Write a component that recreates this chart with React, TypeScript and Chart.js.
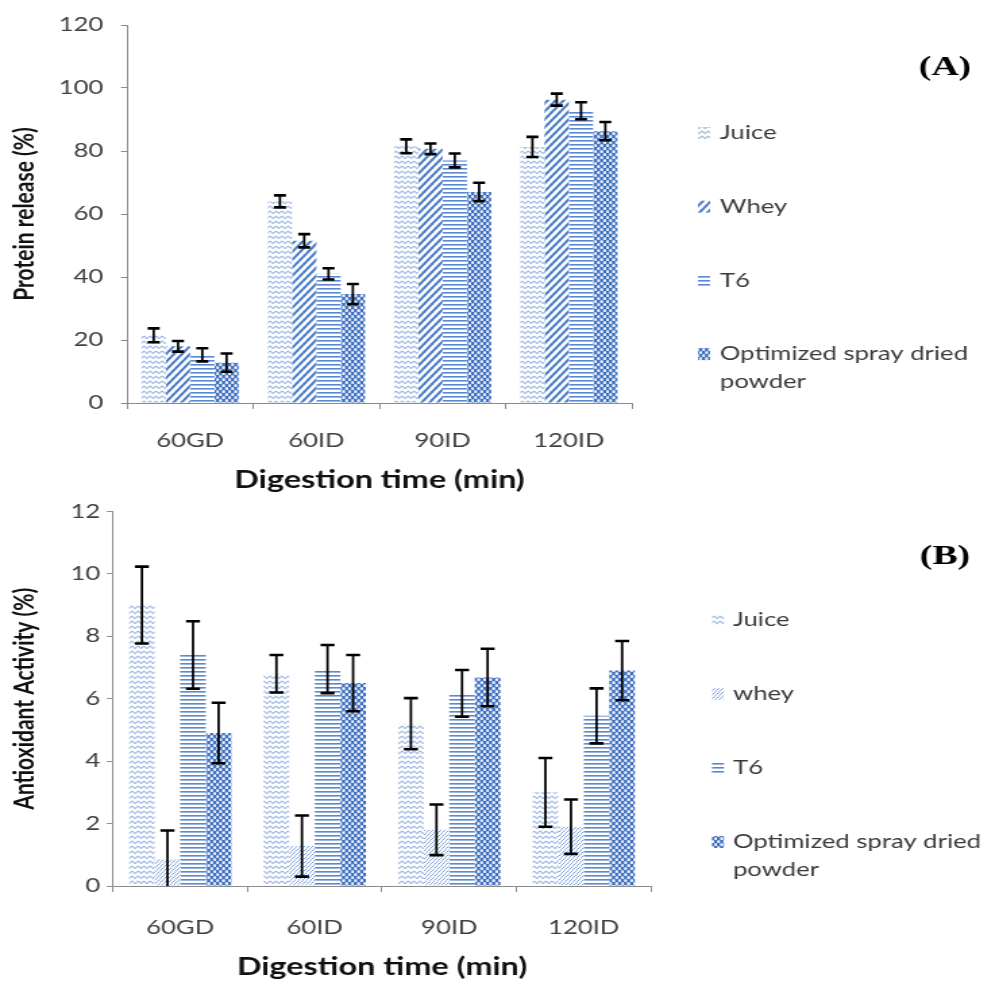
import React, { useEffect, useRef } from 'react';
import { Chart, registerables } from 'chart.js';
Chart.register(...registerables);

// The reference figure is horizontally stretched; we draw in a narrower canvas and stretch it.
const S = 1.35;
const W = 981;
const CW = Math.round(W / S);
const H_TOP = 495;
const H_BOT = 487;

const FONT = 'Lato';
const AXIS = '#8c8c8c';
const TICK = '#404040';

// ---- data ----
const categories = ['60GD', '60ID', '90ID', '120ID'];

const proteinLabels = ['Juice', 'Whey', 'T6', 'Optimized spray dried powder'];
const proteinJuice = [21.5, 64, 81.5, 81.3];
const proteinWhey = [18, 51.5, 80.7, 96.3];
const proteinT6 = [15.3, 41, 77, 92.8];
const proteinOpt = [12.8, 34.6, 67, 86.3];
const proteinJuiceErr = [2.2, 1.9, 2.2, 3.2];
const proteinWheyErr = [1.7, 2.1, 1.7, 1.9];
const proteinT6Err = [2.1, 1.8, 2.2, 2.7];
const proteinOptErr = [2.9, 3.2, 2.9, 2.9];

const antioxLabels = ['Juice', 'whey', 'T6', 'Optimized spray dried powder'];
const antioxJuice = [9.0, 6.8, 5.2, 3.0];
const antioxWhey = [0.86, 1.28, 1.8, 1.9];
const antioxT6 = [7.4, 6.95, 6.17, 5.45];
const antioxOpt = [4.9, 6.5, 6.68, 6.9];
const antioxJuiceErr = [1.23, 0.6, 0.82, 1.1];
const antioxWheyErr = [0.92, 0.98, 0.81, 0.87];
const antioxT6Err = [1.08, 0.77, 0.75, 0.88];
const antioxOptErr = [0.97, 0.9, 0.92, 0.95];

const proteinTicks = { max: 120, step: 20 };
const antioxTicks = { max: 12, step: 2 };

// ---- patterns ----
function tile(w: number, h: number, draw: (g: CanvasRenderingContext2D) => void) {
  const c = document.createElement('canvas');
  c.width = w;
  c.height = h;
  const g = c.getContext('2d') as CanvasRenderingContext2D;
  draw(g);
  return c;
}

function diag(n: number, color: string, lw: number) {
  return tile(n, n, (g) => {
    g.fillStyle = '#ffffff';
    g.fillRect(0, 0, n, n);
    g.strokeStyle = color;
    g.lineWidth = lw;
    g.lineCap = 'square';
    g.beginPath();
    g.moveTo(0, n);
    g.lineTo(n, 0);
    g.moveTo(-2, 2);
    g.lineTo(2, -2);
    g.moveTo(n - 2, n + 2);
    g.lineTo(n + 2, n - 2);
    g.stroke();
  });
}

function makePattern(ctx: CanvasRenderingContext2D, kind: string): any {
  let t: HTMLCanvasElement;
  if (kind === 'zigzag') {
    t = tile(6, 5, (g) => {
      g.fillStyle = '#ffffff';
      g.fillRect(0, 0, 6, 5);
      g.strokeStyle = '#8eaee0';
      g.lineWidth = 1.1;
      g.beginPath();
      g.moveTo(0, 1);
      g.lineTo(3, 3.6);
      g.lineTo(6, 1);
      g.stroke();
    });
  } else if (kind === 'wide') {
    t = diag(8, '#4a7cc6', 2.4);
  } else if (kind === 'light') {
    t = diag(4, '#6f95d2', 1);
  } else if (kind === 'hlines') {
    t = tile(4, 4, (g) => {
      g.fillStyle = '#ffffff';
      g.fillRect(0, 0, 4, 4);
      g.fillStyle = '#5a89d0';
      g.fillRect(0, 0, 4, 1.6);
    });
  } else {
    t = tile(6, 6, (g) => {
      g.fillStyle = '#3f70c0';
      g.fillRect(0, 0, 6, 6);
      g.fillStyle = '#ffffff';
      g.fillRect(0.3, 0.3, 2.6, 2.6);
      g.fillRect(3.3, 3.3, 2.6, 2.6);
    });
  }
  const p = ctx.createPattern(t, 'repeat') as CanvasPattern;
  if (p && (p as any).setTransform) p.setTransform(new DOMMatrix([1 / S, 0, 0, 1, 0, 0]));
  return p;
}

// ---- plugins ----
const errorBarsPlugin = {
  id: 'errorBars',
  afterDatasetsDraw(chart: any, _args: any, opts: any) {
    const { ctx, chartArea } = chart;
    const y = chart.scales.y;
    ctx.save();
    ctx.beginPath();
    ctx.rect(chartArea.left, chartArea.top - 30, chartArea.right - chartArea.left, chartArea.bottom - chartArea.top + 30);
    ctx.clip();
    ctx.strokeStyle = '#000000';
    chart.data.datasets.forEach((ds: any, di: number) => {
      const meta = chart.getDatasetMeta(di);
      meta.data.forEach((bar: any, i: number) => {
        const v = ds.data[i];
        const e = ds.errors[i];
        const yT = y.getPixelForValue(v + e);
        const yB = y.getPixelForValue(v - e);
        const x = bar.x;
        ctx.lineWidth = opts.stem;
        ctx.beginPath();
        ctx.moveTo(x, yT);
        ctx.lineTo(x, yB);
        ctx.stroke();
        ctx.lineWidth = opts.cap;
        ctx.beginPath();
        ctx.moveTo(x - opts.half, yT);
        ctx.lineTo(x + opts.half, yT);
        ctx.moveTo(x - opts.half, yB);
        ctx.lineTo(x + opts.half, yB);
        ctx.stroke();
      });
    });
    ctx.restore();
  },
};

const sideLegendPlugin = {
  id: 'sideLegend',
  afterDraw(chart: any, _args: any, o: any) {
    const { ctx } = chart;
    ctx.save();
    ctx.font = `${o.size}px ${FONT}`;
    ctx.textBaseline = 'middle';
    ctx.textAlign = 'left';
    let y = o.top;
    chart.data.datasets.forEach((ds: any) => {
      // swatch
      ctx.fillStyle = ds.backgroundColor;
      ctx.fillRect(o.x, y - 6, 12 / S, 12);
      // wrapped text
      const words = String(ds.label).split(' ');
      const lines: string[] = [];
      let cur = '';
      words.forEach((w: string) => {
        const test = cur ? cur + ' ' + w : w;
        if (ctx.measureText(test).width > o.maxWidth && cur) {
          lines.push(cur);
          cur = w;
        } else cur = test;
      });
      if (cur) lines.push(cur);
      ctx.fillStyle = '#3a3a3a';
      lines.forEach((ln, k) => ctx.fillText(ln, o.textX, y + k * o.lineH));
      y += o.step;
    });
    ctx.restore();
  },
};

const tagPlugin = {
  id: 'panelTag',
  afterDraw(chart: any, _args: any, o: any) {
    const { ctx } = chart;
    ctx.save();
    ctx.font = 'bold 28px "Liberation Serif"';
    ctx.fillStyle = '#000000';
    ctx.textAlign = 'center';
    ctx.textBaseline = 'middle';
    ctx.fillText(o.text, o.x, o.y);
    ctx.restore();
  },
};

function buildChart(canvas: HTMLCanvasElement, p: any) {
  const ctx = canvas.getContext('2d') as CanvasRenderingContext2D;
  const fills = p.patterns.map((k: string) => makePattern(ctx, k));
  return new Chart(canvas, {
    type: 'bar',
    data: {
      labels: categories,
      datasets: p.series.map((s: number[], i: number) => ({
        label: p.labels[i],
        data: s,
        errors: p.errors[i],
        backgroundColor: fills[i],
        borderWidth: 0,
        categoryPercentage: p.catPct,
        barPercentage: 1,
      })),
    } as any,
    options: {
      responsive: false,
      animation: false,
      devicePixelRatio: 1,
      layout: { padding: { left: 0, right: CW - p.right, top: p.top, bottom: 0 } },
      plugins: {
        legend: { display: false },
        tooltip: { enabled: false },
        errorBars: { stem: 2.4 / S, cap: 2.6, half: p.capHalf / S },
        sideLegend: { x: p.legendX, textX: p.legendTextX, top: p.legendTop, step: p.legendStep, lineH: 28, size: 19, maxWidth: 200 },
        panelTag: { text: p.tag, x: 945 / S, y: p.tagY },
      } as any,
      scales: {
        x: {
          grid: { display: true, drawOnChartArea: false, offset: true, tickLength: 6, color: AXIS, lineWidth: 1 },
          border: { color: AXIS },
          ticks: { font: { family: FONT, size: 19 }, color: TICK, padding: p.xPad },
          title: {
            display: true,
            text: 'Digestion time (min)',
            font: { family: FONT, size: 24, weight: 'bold' },
            color: '#111111',
            padding: { top: 0, bottom: 0 },
          },
          afterFit: (s: any) => {
            s.height = p.xHeight;
          },
        },
        y: {
          min: 0,
          max: p.max,
          ticks: { stepSize: p.step, font: { family: FONT, size: 19 }, color: TICK, padding: p.yPad },
          grid: { drawOnChartArea: false, tickLength: 4.5, color: AXIS },
          border: { color: AXIS },
          title: {
            display: true,
            text: p.yTitle,
            font: { family: FONT, size: 21, weight: 'bold' },
            color: '#111111',
            padding: { top: 6, bottom: 0 },
          },
          afterFit: (s: any) => {
            s.width = p.left;
          },
        },
      } as any,
    },
    plugins: [errorBarsPlugin, sideLegendPlugin, tagPlugin],
  });
}

const topPanel = {
  labels: proteinLabels,
  series: [proteinJuice, proteinWhey, proteinT6, proteinOpt],
  errors: [proteinJuiceErr, proteinWheyErr, proteinT6Err, proteinOptErr],
  patterns: ['zigzag', 'wide', 'hlines', 'checker'],
  max: proteinTicks.max,
  step: proteinTicks.step,
  yTitle: 'Protein release (%)',
  left: 127 / S,
  right: 632 / S,
  top: 25,
  xHeight: H_TOP - 403,
  xPad: 20,
  yPad: 13,
  catPct: 0.77,
  capHalf: 6,
  legendX: 698 / S,
  legendTextX: 720 / S,
  legendTop: 133,
  legendStep: 73.7,
  tag: '(A)',
  tagY: 68,
};

const bottomPanel = {
  labels: antioxLabels,
  series: [antioxJuice, antioxWhey, antioxT6, antioxOpt],
  errors: [antioxJuiceErr, antioxWheyErr, antioxT6Err, antioxOptErr],
  patterns: ['zigzag', 'light', 'hlines', 'checker'],
  max: antioxTicks.max,
  step: antioxTicks.step,
  yTitle: 'Antioxidant Activity (%)',
  left: 113 / S,
  right: 651 / S,
  top: 13,
  xHeight: H_BOT - 391,
  xPad: 24,
  yPad: 5,
  catPct: 0.76,
  capHalf: 7,
  legendX: 712 / S,
  legendTextX: 733 / S,
  legendTop: 125,
  legendStep: 74,
  tag: '(B)',
  tagY: 62,
};

function Panel({ top, height, cfg }: { top: number; height: number; cfg: any }) {
  const ref = useRef<HTMLCanvasElement | null>(null);
  useEffect(() => {
    if (!ref.current) return;
    const chart = buildChart(ref.current, cfg);
    return () => chart.destroy();
  }, [cfg]);
  return (
    <div
      style={{
        position: 'absolute',
        left: 0,
        top,
        width: CW,
        height,
        transform: `scaleX(${S})`,
        transformOrigin: '0 0',
      }}
    >
      <canvas ref={ref} width={CW} height={height} style={{ display: 'block', width: CW, height }} />
    </div>
  );
}

export default function App() {
  return (
    <div style={{ position: 'absolute', left: 0, top: 0, width: W, height: 982, background: '#ffffff', overflow: 'hidden' }}>
      <Panel top={0} height={H_TOP} cfg={topPanel} />
      <Panel top={H_TOP} height={H_BOT} cfg={bottomPanel} />
    </div>
  );
}
